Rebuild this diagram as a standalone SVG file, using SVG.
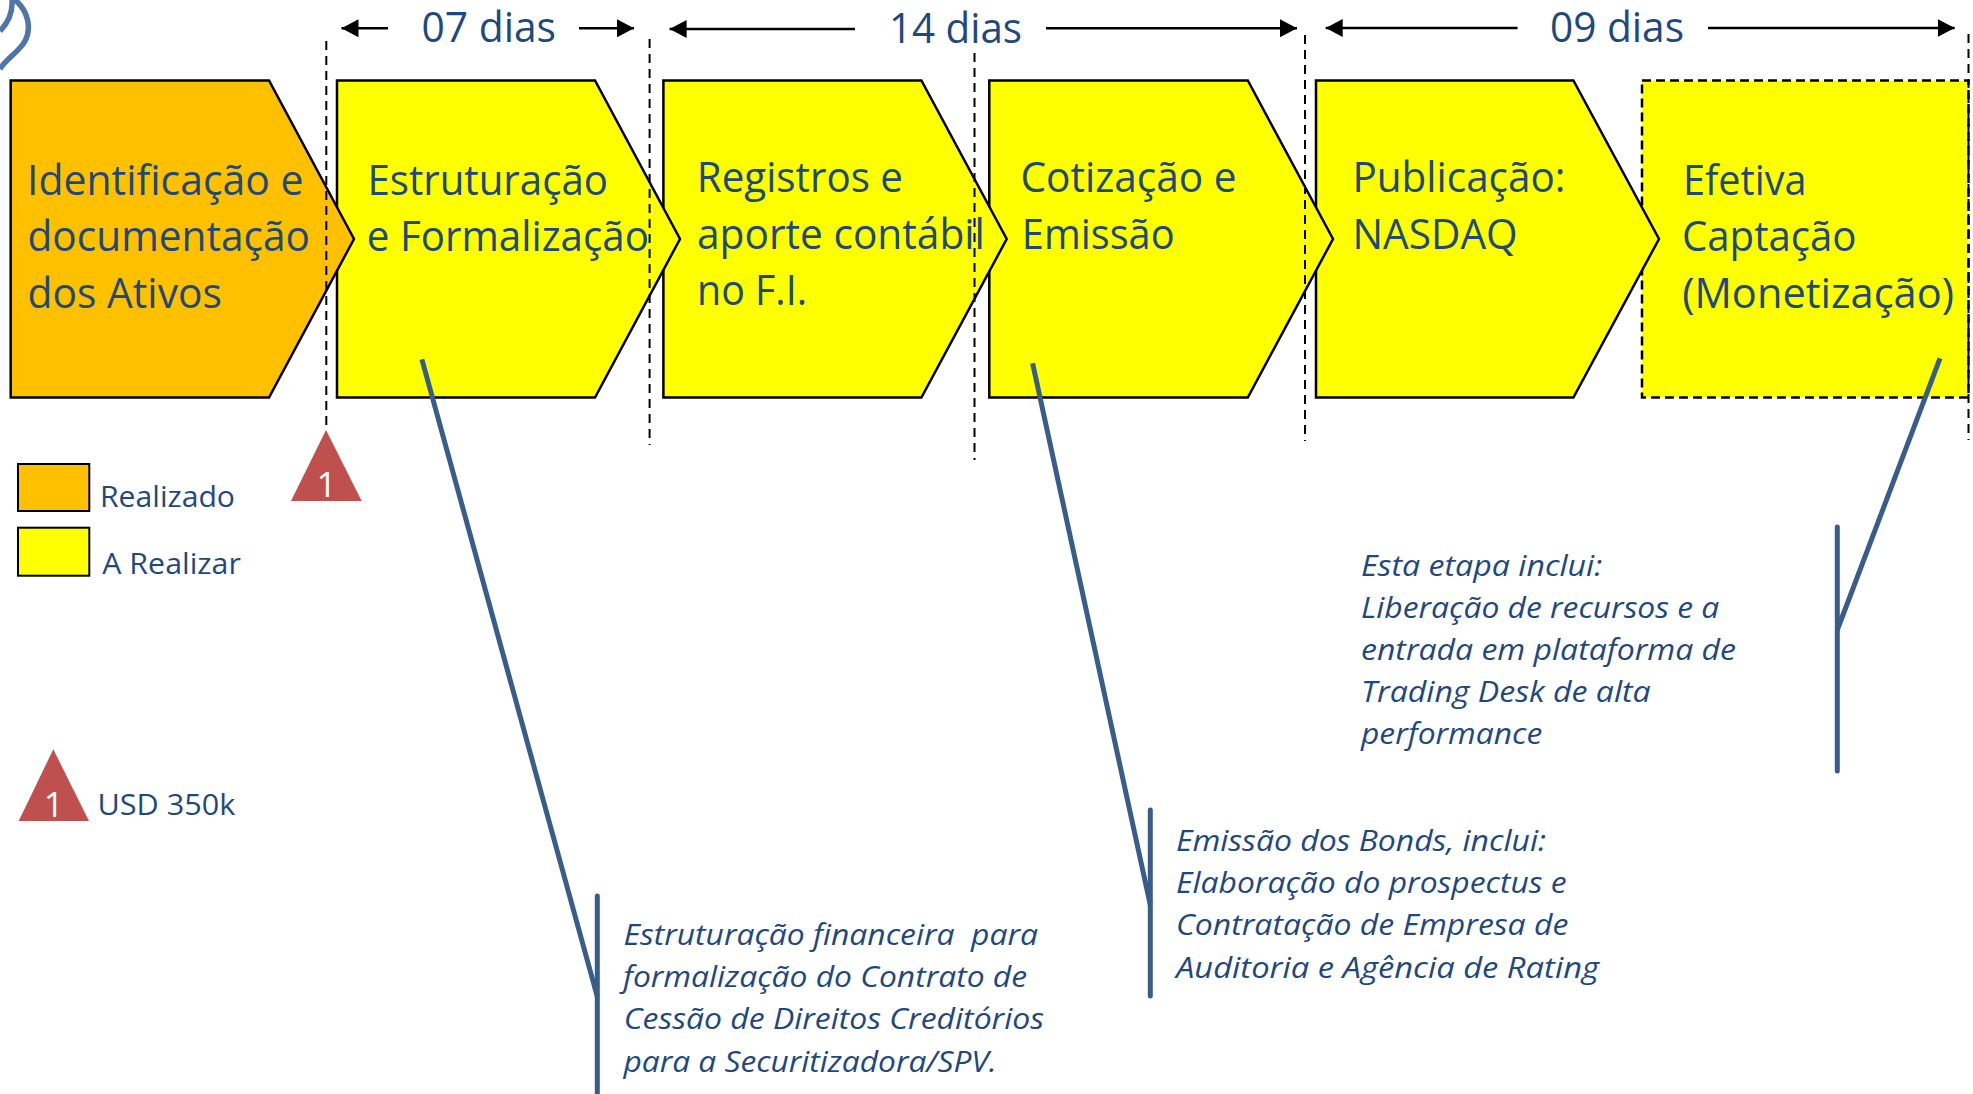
<svg xmlns="http://www.w3.org/2000/svg" width="1973" height="1094" viewBox="0 0 1973 1094">
<defs>
<style>
text{font-family:"Open Sans","Liberation Sans",sans-serif;fill:#1f497d;white-space:pre}
.big{font-size:41.5px}
.days{font-size:42px}
.leg{font-size:29px}
.note{font-size:29.5px;font-style:italic}
.num{font-size:35px;fill:#fff;text-anchor:middle}
.step{stroke:#000;stroke-width:2.5;stroke-linejoin:miter}
.or{fill:#ffc000}
.ye{fill:#ff0}
.tri{fill:#c0504d}
.dash{fill:none;stroke:#000;stroke-width:2;stroke-dasharray:9 6}
.arr{fill:none;stroke:#000;stroke-width:2.5}
.lead{fill:none;stroke:#385d8a;stroke-width:5}
.bar{fill:none;stroke:#385d8a;stroke-width:5;stroke-linecap:round}
</style>
<marker id="ah" markerUnits="userSpaceOnUse" markerWidth="18" markerHeight="18" refX="17" refY="9" orient="auto-start-reverse"><path d="M0 0L17 9L0 18Z" fill="#000"/></marker>
</defs>
<rect width="1973" height="1094" fill="#fff"/>
<g id="logo-fragment"><path d="M14 -1C28 10 32 28 25 41C19 52 7 58 0 69M12 -1C13 12 8 23 0 31" fill="none" stroke="#4f75ab" stroke-width="5.500"/></g>
<g id="step-6"><rect class="ye" x="1642" y="80.5" width="326.500" height="317" stroke="#000" stroke-width="2.500" stroke-dasharray="9 5"/>
<text class="big" x="1683" y="194.800" textLength="123.500" lengthAdjust="spacingAndGlyphs">Efetiva</text>
<text class="big" x="1682" y="250.700" textLength="174.500" lengthAdjust="spacingAndGlyphs">Captação</text>
<text class="big" x="1682.200" y="307.800" textLength="271.800" lengthAdjust="spacingAndGlyphs">(Monetização)</text></g>
<g id="step-5"><path class="step ye" d="M1316 80.500H1573.400L1659 239L1573.400 397.500H1316Z"/>
<text class="big" x="1352.500" y="191.700" textLength="212.900" lengthAdjust="spacingAndGlyphs">Publicação:</text>
<text class="big" x="1352.500" y="248.800" textLength="165.100" lengthAdjust="spacingAndGlyphs">NASDAQ</text></g>
<g id="step-4"><path class="step ye" d="M989.300 80.500H1247.800L1333 239L1247.800 397.500H989.300Z"/>
<text class="big" x="1020.500" y="191.700" textLength="216.100" lengthAdjust="spacingAndGlyphs">Cotização e</text>
<text class="big" x="1021.800" y="248.800" textLength="152.800" lengthAdjust="spacingAndGlyphs">Emissão</text></g>
<g id="step-3"><path class="step ye" d="M663.400 80.500H921.400L1006.700 239L921.400 397.500H663.400Z"/>
<text class="big" x="696.800" y="191.700" textLength="206.200" lengthAdjust="spacingAndGlyphs">Registros e</text>
<text class="big" x="697" y="248.800" textLength="287.800" lengthAdjust="spacingAndGlyphs">aporte contábil</text>
<text class="big" x="697" y="304.800" textLength="110" lengthAdjust="spacingAndGlyphs">no F.I.</text></g>
<g id="step-2"><path class="step ye" d="M337 80.500H595L680 239L595 397.500H337Z"/>
<text class="big" x="367.400" y="194.800" textLength="240.600" lengthAdjust="spacingAndGlyphs">Estruturação</text>
<text class="big" x="366.800" y="251.200" textLength="282.200" lengthAdjust="spacingAndGlyphs">e Formalização</text></g>
<g id="step-1"><path class="step or" d="M10.700 80.500H269L354 239L269 397.500H10.700Z"/>
<text class="big" x="27" y="194.800" textLength="276.600" lengthAdjust="spacingAndGlyphs">Identificação e</text>
<text class="big" x="27.500" y="251.200" textLength="282.500" lengthAdjust="spacingAndGlyphs">documentação</text>
<text class="big" x="27.500" y="307.800" textLength="194.500" lengthAdjust="spacingAndGlyphs">dos Ativos</text></g>
<g id="connectors">
<path class="dash" d="M326.300 41V430"/>
<path class="dash" d="M649.600 39V445"/>
<path class="dash" d="M974.500 53V460"/>
<path class="dash" d="M1305 35V441"/>
<path class="dash" d="M1968.500 34V440"/>
<path class="arr" d="M388 28.300H341.500" marker-end="url(#ah)"/>
<path class="arr" d="M579 28.300H634" marker-end="url(#ah)"/>
<path class="arr" d="M855 29H669.600" marker-end="url(#ah)"/>
<path class="arr" d="M1046 28.300H1297" marker-end="url(#ah)"/>
<path class="arr" d="M1517.600 28H1325.700" marker-end="url(#ah)"/>
<path class="arr" d="M1708 28H1954.700" marker-end="url(#ah)"/>
<path class="lead" d="M421.900 359.300L597.300 996.700"/>
<path class="bar" d="M597.300 896V1096"/>
<path class="lead" d="M1032.600 363.300L1150.300 905"/>
<path class="bar" d="M1150.300 810V996"/>
<path class="lead" d="M1940 358.300L1837.300 630"/>
<path class="bar" d="M1837.300 527V771"/>
</g>
<g id="label-07"><text class="days" x="421.500" y="41.700" textLength="134.500" lengthAdjust="spacingAndGlyphs">07 dias</text></g>
<g id="label-14"><text class="days" x="889" y="42.700" textLength="133" lengthAdjust="spacingAndGlyphs">14 dias</text></g>
<g id="label-09"><text class="days" x="1550" y="41.700" textLength="134" lengthAdjust="spacingAndGlyphs">09 dias</text></g>
<g id="legend-realizado"><rect class="or" x="18" y="464" width="71.300" height="47" stroke="#000" stroke-width="2"/>
<text class="leg" x="100" y="506.700" textLength="135" lengthAdjust="spacingAndGlyphs">Realizado</text></g>
<g id="legend-a-realizar"><rect class="ye" x="18" y="527.700" width="71.300" height="48" stroke="#000" stroke-width="2"/>
<text class="leg" x="102.300" y="573.500" textLength="138.500" lengthAdjust="spacingAndGlyphs">A Realizar</text></g>
<g id="marker-1"><path class="tri" d="M326 430L361.700 501H291Z"/><text class="num" x="326.500" y="496.700">1</text></g>
<g id="legend-usd"><path class="tri" d="M53.300 749.300L89 821H18.700Z"/><text class="num" x="53.800" y="816.700">1</text>
<text class="leg" x="97.500" y="815" textLength="137.800" lengthAdjust="spacingAndGlyphs">USD 350k</text></g>
<g id="note-1">
<text class="note" x="623.500" y="945" textLength="414.500" lengthAdjust="spacingAndGlyphs">Estruturação financeira  para</text>
<text class="note" x="623" y="987.300" textLength="404" lengthAdjust="spacingAndGlyphs">formalização do Contrato de</text>
<text class="note" x="623.800" y="1029" textLength="420.200" lengthAdjust="spacingAndGlyphs">Cessão de Direitos Creditórios</text>
<text class="note" x="623.500" y="1071.700" textLength="373.200" lengthAdjust="spacingAndGlyphs">para a Securitizadora/SPV.</text></g>
<g id="note-2">
<text class="note" x="1176" y="850.700" textLength="370" lengthAdjust="spacingAndGlyphs">Emissão dos Bonds, inclui:</text>
<text class="note" x="1176" y="892.700" textLength="390.700" lengthAdjust="spacingAndGlyphs">Elaboração do prospectus e</text>
<text class="note" x="1176" y="935" textLength="392.300" lengthAdjust="spacingAndGlyphs">Contratação de Empresa de</text>
<text class="note" x="1176" y="977.800" textLength="423" lengthAdjust="spacingAndGlyphs">Auditoria e Agência de Rating</text></g>
<g id="note-3">
<text class="note" x="1361" y="576" textLength="241.300" lengthAdjust="spacingAndGlyphs">Esta etapa inclui:</text>
<text class="note" x="1361" y="617.700" textLength="358.300" lengthAdjust="spacingAndGlyphs">Liberação de recursos e a</text>
<text class="note" x="1361" y="660" textLength="375" lengthAdjust="spacingAndGlyphs">entrada em plataforma de</text>
<text class="note" x="1361" y="701.700" textLength="289.700" lengthAdjust="spacingAndGlyphs">Trading Desk de alta</text>
<text class="note" x="1361" y="744" textLength="181.300" lengthAdjust="spacingAndGlyphs">performance</text></g>
</svg>
